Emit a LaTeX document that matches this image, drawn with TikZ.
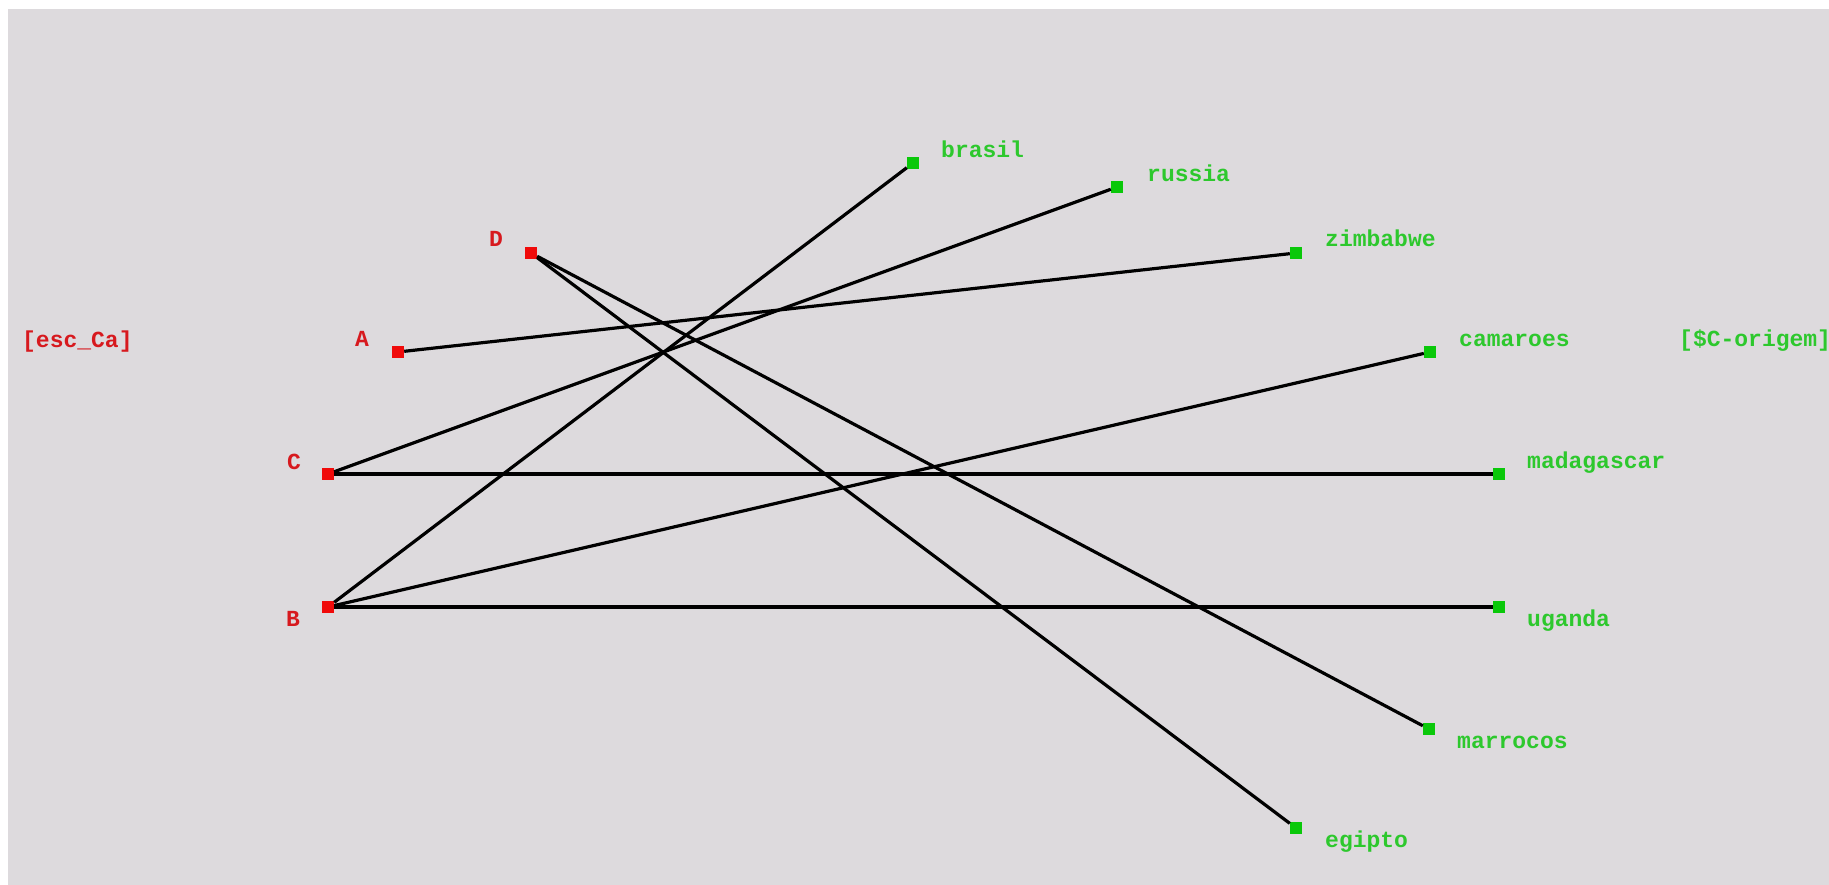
\documentclass[tikz,border=0pt]{standalone}
\usepackage{fontspec}
\setmonofont{Liberation Mono}
\definecolor{bggray}{RGB}{221,218,221}
\definecolor{redsq}{RGB}{240,10,10}
\definecolor{redtx}{RGB}{215,25,30}
\definecolor{greensq}{RGB}{10,200,10}
\definecolor{greentx}{RGB}{45,200,45}
\begin{document}
\begin{tikzpicture}[x=1pt,y=-1pt,
  redpt/.style={rectangle,fill=redsq,minimum size=12pt,inner sep=0pt},
  greenpt/.style={rectangle,fill=greensq,minimum size=12pt,inner sep=0pt},
  lbl/.style={anchor=base west,inner sep=0pt,font=\ttfamily\bfseries\fontsize{23}{23}\selectfont},
  redlbl/.style={lbl,text=redtx},
  greenlbl/.style={lbl,text=greentx},
  link/.style={draw=black,line width=3.2pt}]
\useasboundingbox (0,0) rectangle (1829,885);
\fill[white] (0,0) rectangle (1829,885);
\fill[bggray] (8,9) rectangle (1829,885);
% points
\node[redpt] (D) at (531,253) {};
\node[redpt] (A) at (398,352) {};
\node[redpt] (C) at (328,474) {};
\node[redpt] (B) at (328,607) {};
\node[greenpt] (brasil) at (913,163) {};
\node[greenpt] (russia) at (1117,187) {};
\node[greenpt] (zimbabwe) at (1296,253) {};
\node[greenpt] (camaroes) at (1430,352) {};
\node[greenpt] (madagascar) at (1499,474) {};
\node[greenpt] (uganda) at (1499,607) {};
\node[greenpt] (marrocos) at (1429,729) {};
\node[greenpt] (egipto) at (1296,828) {};
% links
\draw[link] (A) -- (zimbabwe);
\draw[link] (D) -- (marrocos);
\draw[link] (D) -- (egipto);
\draw[link] (C) -- (russia);
\draw[link] (C) -- (madagascar);
\draw[link] (B) -- (brasil);
\draw[link] (B) -- (camaroes);
\draw[link] (B) -- (uganda);
% labels
\node[redlbl] (lD) at (489,247) {D};
\node[redlbl] (lA) at (355,347) {A};
\node[redlbl] (lC) at (287,469) {C};
\node[redlbl] (lB) at (286,626) {B};
\node[redlbl] (lesc) at (22,348) {[esc\_Ca]};
\node[greenlbl] (lbrasil) at (941,158) {brasil};
\node[greenlbl] (lrussia) at (1147,182) {russia};
\node[greenlbl] (lzimbabwe) at (1325,247) {zimbabwe};
\node[greenlbl] (lcamaroes) at (1459,346) {camaroes};
\node[greenlbl] (lorigem) at (1679,347) {[\$C-origem]};
\node[greenlbl] (lmadagascar) at (1527,468) {madagascar};
\node[greenlbl] (luganda) at (1527,626) {uganda};
\node[greenlbl] (lmarrocos) at (1457,748) {marrocos};
\node[greenlbl] (legipto) at (1325,847) {egipto};
\end{tikzpicture}
\end{document}
